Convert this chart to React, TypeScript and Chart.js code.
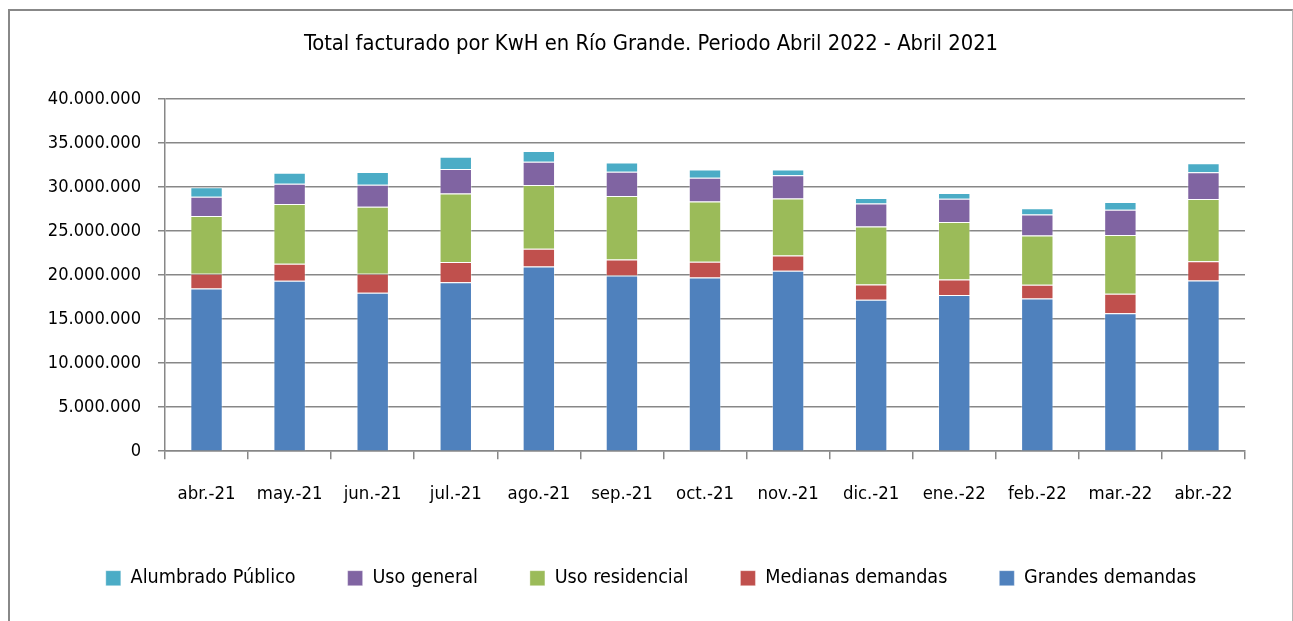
import React, { useEffect, useRef } from "react";
import { Chart, registerables } from "chart.js";

Chart.register(...registerables);

const categories = ["abr.-21", "may.-21", "jun.-21", "jul.-21", "ago.-21", "sep.-21", "oct.-21", "nov.-21", "dic.-21", "ene.-22", "feb.-22", "mar.-22", "abr.-22"];
const grandesDemandas = [18490000, 19360000, 17990000, 19200000, 20980000, 19960000, 19730000, 20490000, 17200000, 17730000, 17350000, 15680000, 19390000];
const medianasDemandas = [1660000, 1930000, 2160000, 2280000, 2010000, 1820000, 1780000, 1750000, 1740000, 1780000, 1550000, 2200000, 2170000];
const usoResidencial = [6550000, 6780000, 7620000, 7800000, 7240000, 7200000, 6860000, 6470000, 6590000, 6510000, 5610000, 6670000, 7080000];
const usoGeneral = [2200000, 2310000, 2500000, 2770000, 2650000, 2760000, 2690000, 2620000, 2610000, 2650000, 2380000, 2870000, 3030000];
const alumbradoPublico = [1070000, 1250000, 1430000, 1400000, 1210000, 1060000, 940000, 670000, 610000, 650000, 690000, 880000, 1020000];

const titleText = "Total facturado por KwH en Río Grande. Periodo Abril 2022 - Abril 2021";
const FONT = '"DejaVu Sans Condensed", "Liberation Sans Narrow", "Noto Sans", sans-serif';
const GRID = "#878787";

function fmt(v: number): string {
  return String(Math.round(v)).replace(/\B(?=(\d{3})+(?!\d))/g, ".");
}

function fitSize(text: string, target: number): number {
  const c = document.createElement("canvas").getContext("2d")!;
  c.font = `100px ${FONT}`;
  const w = c.measureText(text).width;
  return Math.round((100 * target) / w * 10) / 10;
}

export default function App() {
  const ref = useRef<HTMLCanvasElement | null>(null);
  useEffect(() => {
    const cv = ref.current;
    if (!cv) return;
    const T = fitSize(titleText, 693);
    const Y = fitSize("40.000.000", 93);
    const X = fitSize("abr.-22", 58);
    const G = fitSize("Grandes demandas", 172);

    const titlePadTop = 40.7 - 0.35 * T - 0.6 * T;
    const titlePadBottom = 88 - titlePadTop - 1.2 * T;
    const xPad = 489 - 448 - 0.35 * X - 0.6 * X;
    const legPad = 52;
    const itemH = Math.max(G, 15);
    const legendTop = 567 - legPad - itemH / 2;
    const xHeight = legendTop - 440;
    cv.width = 1282;
    cv.height = Math.round(legendTop + itemH + legPad + 10);

    const mk = (label: string, data: number[], color: string) => ({
      label,
      data,
      yAxisID: "y",
      backgroundColor: color,
      borderColor: "rgba(255,255,255,0.35)",
      borderWidth: 1,
      barPercentage: 0.39,
      categoryPercentage: 1,
    });
    const chart = new Chart(cv, {
      type: "bar",
      data: {
        labels: categories,
        datasets: [
          mk("Grandes demandas", grandesDemandas, "#4F81BD"),
          mk("Medianas demandas", medianasDemandas, "#C0504D"),
          mk("Uso residencial", usoResidencial, "#9BBB59"),
          mk("Uso general", usoGeneral, "#8064A2"),
          mk("Alumbrado Público", alumbradoPublico, "#4BACC6"),
        ],
      },
      options: {
        animation: false,
        responsive: false,
        layout: { padding: 0 },
        plugins: {
          title: {
            display: true,
            text: titleText,
            color: "#000",
            font: { family: FONT, size: T, weight: "normal" },
            padding: { top: titlePadTop, bottom: titlePadBottom },
          },
          legend: {
            position: "bottom",
            reverse: true,
            labels: {
              color: "#000",
              font: { family: FONT, size: G },
              boxWidth: 15,
              boxHeight: 15,
              padding: legPad,
            },
          },
          tooltip: { enabled: false },
        },
        scales: {
          x: {
            stacked: true,
            grid: {
              display: true,
              drawOnChartArea: false,
              drawTicks: true,
              tickLength: 8,
              color: GRID,
              lineWidth: 1.5,
            },
            border: { display: true, color: GRID, width: 1.5 },
            ticks: {
              color: "#000",
              font: { family: FONT, size: X },
              padding: xPad,
              maxRotation: 0,
              autoSkip: false,
            },
            afterFit: (s: any) => {
              s.height = xHeight;
            },
          },
          y: {
            stacked: true,
            position: "left",
            min: 0,
            max: 40000000,
            grid: {
              color: GRID,
              lineWidth: 1.5,
              drawTicks: true,
              tickLength: 7,
            },
            border: { display: true, color: GRID, width: 1.5 },
            ticks: {
              stepSize: 5000000,
              color: "#000",
              font: { family: FONT, size: Y },
              padding: 17,
              callback: (v: any) => fmt(Number(v)),
            },
            afterFit: (s: any) => {
              s.width = 155;
            },
          },
          ySpacer: {
            type: "linear",
            position: "right",
            display: true,
            grid: { display: false, drawTicks: false },
            border: { display: false },
            ticks: { display: false },
            afterFit: (s: any) => {
              s.width = 47;
            },
          },
        },
      },
    });
    return () => chart.destroy();
  }, []);

  return (
    <div
      style={{
        position: "fixed",
        left: 8,
        top: 9,
        width: 1282,
        height: 640,
        borderLeft: "2px solid #888",
        borderTop: "2px solid #888",
        borderRight: "1px solid #b5b5b5",
        background: "#fff",
        overflow: "hidden",
      }}
    >
      <canvas ref={ref} width={1282} height={587} style={{ display: "block" }} />
    </div>
  );
}
